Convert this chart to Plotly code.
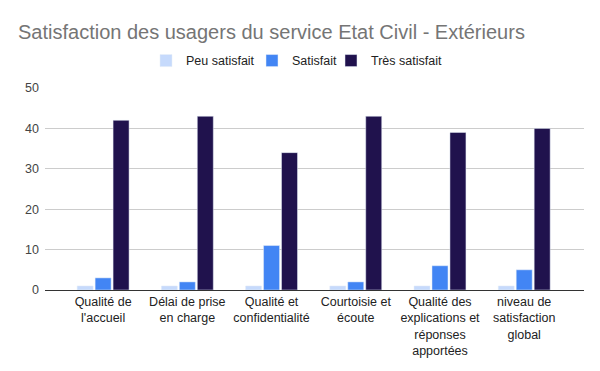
import plotly.graph_objects as go

categories = [
    "Qualité de<br>l'accueil",
    "Délai de prise<br>en charge",
    "Qualité et<br>confidentialité",
    "Courtoisie et<br>écoute",
    "Qualité des<br>explications et<br>réponses<br>apportées",
    "niveau de<br>satisfaction<br>global",
]
peu_satisfait = [1, 1, 1, 1, 1, 1]
satisfait = [3, 2, 11, 2, 6, 5]
tres_satisfait = [42, 43, 34, 43, 39, 40]
y_ticks = [0, 10, 20, 30, 40, 50]

fig = go.Figure()
fig.add_trace(go.Bar(name="Peu satisfait", x=categories, y=peu_satisfait, marker_color="#c6dafc", legend="legend"))
fig.add_trace(go.Bar(name="Satisfait", x=categories, y=satisfait, marker_color="#4285f4", legend="legend2"))
fig.add_trace(go.Bar(name="Très satisfait", x=categories, y=tres_satisfait, marker_color="#20124d", legend="legend3"))

leg_common = dict(orientation="h", y=1.134, yanchor="middle", xanchor="left",
                  font=dict(size=12.5, color="#222222"), bgcolor="rgba(0,0,0,0)")

fig.update_layout(
    width=600, height=371,
    margin=dict(l=45, r=16, t=88, b=81, autoexpand=False),
    paper_bgcolor="white", plot_bgcolor="white",
    barmode="group", bargap=0.36, bargroupgap=0.11,
    font=dict(family="Arial, Liberation Sans, sans-serif", color="#222222", size=12),
    title=dict(
        text="Satisfaction des usagers du service Etat Civil - Extérieurs",
        x=18/600, xref="container", xanchor="left",
        y=1-32/371, yref="container", yanchor="middle",
        font=dict(size=20, color="#757575"),
    ),
    legend=dict(x=(146-45)/539, **leg_common),
    legend2=dict(x=(252-45)/539, **leg_common),
    legend3=dict(x=(331-45)/539, **leg_common),
    showlegend=True,
)
fig.update_xaxes(
    range=[-0.69, 5.71], showgrid=False, showline=True, linecolor="#333333", linewidth=1,
    tickfont=dict(size=12.5, color="#222222"), ticks="", fixedrange=True,
)
fig.update_yaxes(
    range=[0, 50], tickvals=y_ticks, showgrid=True, gridcolor="#cccccc", zeroline=False,
    tickfont=dict(size=12.5, color="#444444"), ticks="", ticklabelstandoff=5,
)
fig.write_html("out.html", config={"displayModeBar": False},
               post_script="document.body.style.margin='0';document.body.style.padding='0';")
